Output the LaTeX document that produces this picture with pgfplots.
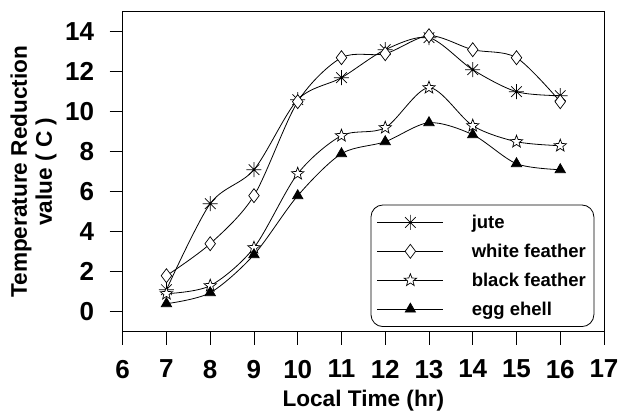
\documentclass[border=0pt]{standalone}
\usepackage{fontspec}
\setmainfont{Liberation Sans}
\usepackage{pgfplots}
\pgfplotsset{compat=1.18}
\pgfdeclareplotmark{ast8}{%
  \pgfpathmoveto{\pgfqpoint{-\pgfplotmarksize}{0pt}}\pgfpathlineto{\pgfqpoint{\pgfplotmarksize}{0pt}}%
  \pgfpathmoveto{\pgfqpoint{0pt}{-\pgfplotmarksize}}\pgfpathlineto{\pgfqpoint{0pt}{\pgfplotmarksize}}%
  \pgfpathmoveto{\pgfpointpolar{45}{\pgfplotmarksize}}\pgfpathlineto{\pgfpointpolar{225}{\pgfplotmarksize}}%
  \pgfpathmoveto{\pgfpointpolar{135}{\pgfplotmarksize}}\pgfpathlineto{\pgfpointpolar{315}{\pgfplotmarksize}}%
  \pgfusepathqstroke}
\pgfdeclareplotmark{ostar}{%
  \pgfpathmoveto{\pgfpointpolar{90}{\pgfplotmarksize}}%
  \pgfpathlineto{\pgfpointpolar{126}{0.42\pgfplotmarksize}}%
  \pgfpathlineto{\pgfpointpolar{162}{\pgfplotmarksize}}%
  \pgfpathlineto{\pgfpointpolar{198}{0.42\pgfplotmarksize}}%
  \pgfpathlineto{\pgfpointpolar{234}{\pgfplotmarksize}}%
  \pgfpathlineto{\pgfpointpolar{270}{0.42\pgfplotmarksize}}%
  \pgfpathlineto{\pgfpointpolar{306}{\pgfplotmarksize}}%
  \pgfpathlineto{\pgfpointpolar{342}{0.42\pgfplotmarksize}}%
  \pgfpathlineto{\pgfpointpolar{18}{\pgfplotmarksize}}%
  \pgfpathlineto{\pgfpointpolar{54}{0.42\pgfplotmarksize}}%
  \pgfpathclose\pgfusepathqfillstroke}
\begin{document}
\begin{tikzpicture}
\begin{axis}[
  at={(0,0)}, anchor=south west,
  scale only axis, width=481.3pt, height=320pt,
  xmin=6, xmax=17, ymin=-1, ymax=15,
  xtick={6,...,17}, ytick={0,2,...,14},
  xtick pos=bottom, ytick pos=left,
  tick align=outside, major tick length=13pt,
  every tick/.style={black, line width=0.8pt},
  axis line style={line width=1pt},
  /pgf/number format/assume math mode=true,
  tick label style={font=\fontsize{26}{26}\selectfont\bfseries},
  xticklabel style={inner sep=0pt, anchor=north, yshift=-15pt},
  yticklabel style={xshift=-12pt},
  label style={font=\fontsize{22.6}{25}\selectfont\bfseries},
  xlabel={Local Time (hr)},
  xlabel style={at={(axis description cs:0.5,0)}, anchor=north, inner sep=0pt, yshift=-58.5pt},
  ylabel={Temperature Reduction\\value ( C )},
  ylabel style={align=center, at={(axis description cs:-0.1371,0.5)}, anchor=south, inner sep=0pt},
  legend style={at={(0.515,0.0147)}, anchor=south west, draw=black, line width=0.8pt,
    rounded corners=12pt, font=\fontsize{18.5}{18.5}\selectfont\bfseries,
    inner xsep=6pt, inner ysep=8pt, row sep=10pt},
  legend cell align=left,
  /tikz/every odd column/.append style={column sep=26pt},
  legend image code/.code={\draw[mark repeat=2,mark phase=2,#1] plot coordinates {(0pt,0pt)(33pt,0pt)(66pt,0pt)};},
  every axis plot/.append style={black, line width=0.8pt, smooth},
]
\addplot[mark=ast8, mark size=7.5pt, mark options={line width=0.7pt}] coordinates {(7,1.1)(8,5.4)(9,7.1)(10,10.6)(11,11.7)(12,13.1)(13,13.7)(14,12.1)(15,11.0)(16,10.8)};
\addlegendentry{jute}
\addplot[mark=diamond*, mark size=7pt, mark options={fill=white, line width=0.7pt}] coordinates {(7,1.8)(8,3.4)(9,5.8)(10,10.5)(11,12.7)(12,12.9)(13,13.8)(14,13.1)(15,12.7)(16,10.5)};
\addlegendentry{white feather}
\addplot[mark=ostar, mark size=6.5pt, mark options={fill=white, line width=0.7pt}] coordinates {(7,0.9)(8,1.3)(9,3.2)(10,6.9)(11,8.8)(12,9.2)(13,11.2)(14,9.3)(15,8.5)(16,8.3)};
\addlegendentry{black feather}
\addplot[mark=triangle*, mark size=6pt, mark options={fill=black, line width=0.7pt}] coordinates {(7,0.4)(8,0.95)(9,2.85)(10,5.8)(11,7.9)(12,8.5)(13,9.45)(14,8.85)(15,7.4)(16,7.1)};
\addlegendentry{egg ehell}
\end{axis}
\pgfresetboundingbox
\path[use as bounding box] (-122.7pt,-83.3pt) rectangle (498.3pt,331.7pt);
\end{tikzpicture}
\end{document}
